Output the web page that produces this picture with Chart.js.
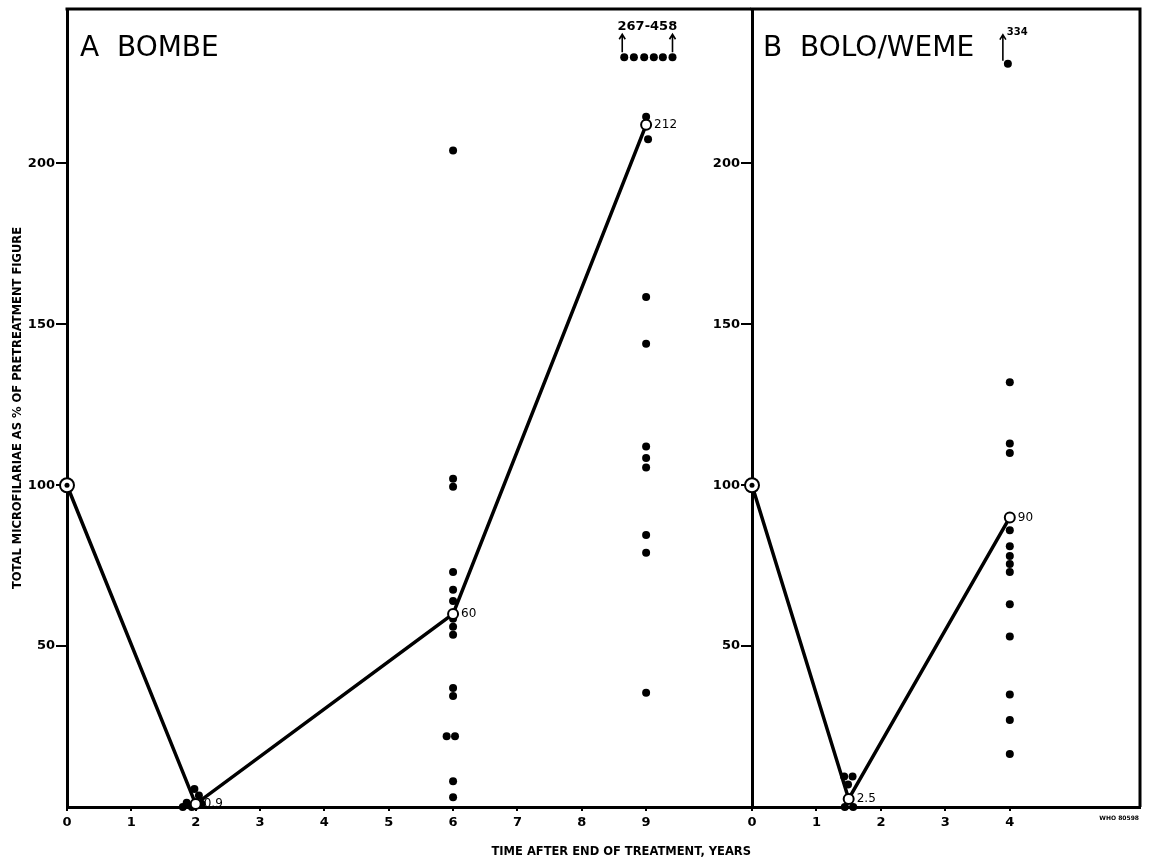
<!DOCTYPE html>
<html>
<head>
<meta charset="utf-8">
<script src="https://cdn.jsdelivr.net/npm/chart.js@4.4.0/dist/chart.umd.min.js"></script>
<style>
  html, body { margin: 0; padding: 0; background: #fff; }
  #wrap { position: relative; width: 1149px; height: 860px; }
  #chartA { position: absolute; left: 0; top: 0; }
  #chartB { position: absolute; left: 700px; top: 0; }
</style>
</head>
<body>
<div id="wrap">
  <canvas id="chartA" width="760" height="860"></canvas>
  <canvas id="chartB" width="449" height="860"></canvas>
</div>
<script>
// panel A - Bombe
var yearsMeanA = [0, 2, 6, 9];
var valuesMeanA = [100, 0.9, 60, 212];
var labelsMeanA = ['', '0.9', '60', '212'];

var yearsDotsA = [1.80, 1.86, 1.94, 1.98, 2.05, 2.09,
    6, 6, 6, 6, 6, 6, 6, 6, 6, 6, 6, 5.9, 6.03, 6, 6,
    9, 9.03, 9, 9, 9, 9, 9, 9, 9, 9];
var valuesDotsA = [0, 1.3, 0, 5.6, 3.6, 1.0,
    204, 102, 99.5, 73, 67.5, 64, 58.5, 56, 53.5, 37, 34.5, 22, 22, 8, 3,
    214.5, 207.5, 158.5, 144, 112, 108.5, 105.5, 84.5, 79, 35.5];

// off-scale values (267-458) drawn in a row at the top
var yearsOffA = [8.66, 8.81, 8.97, 9.12, 9.26, 9.41];
var plotOffA = 233;
var rangeOffA = '267-458';

// panel B - Bolo/Weme
var yearsMeanB = [0, 1.5, 4];
var valuesMeanB = [100, 2.5, 90];
var labelsMeanB = ['', '2.5', '90'];

var yearsDotsB = [1.43, 1.56, 1.49, 1.44, 1.57,
    4, 4, 4, 4, 4, 4, 4, 4, 4, 4, 4, 4, 4];
var valuesDotsB = [9.5, 9.5, 7, 0, 0,
    132, 113, 110, 86, 81, 78, 75.5, 73, 63, 53, 35, 27, 16.5];

var yearsOffB = [3.97];
var plotOffB = 231;
var rangeOffB = '334';

// axes
var xTicksA = [0, 1, 2, 3, 4, 5, 6, 7, 8, 9];
var xTicksB = [0, 1, 2, 3, 4];
var yTicks = [50, 100, 150, 200];
var yMax = 248;
var xMaxA = 10.63;
var xMaxB = 6.02;

var FONT = '"DejaVu Sans", sans-serif';

function pts(xs, ys) {
    return xs.map(function (x, i) { return { x: x, y: Array.isArray(ys) ? ys[i] : ys }; });
}

// frame (top + right), panel title, value labels, off-scale arrows
var notes = {
    id: 'notes',
    afterDatasetsDraw(chart, args, o) {
        var ctx = chart.ctx, a = chart.chartArea;
        ctx.save();
        ctx.strokeStyle = '#000';
        ctx.fillStyle = '#000';
        ctx.lineWidth = 3;
        ctx.beginPath();
        ctx.moveTo(a.left - 1.5, a.top);
        ctx.lineTo(a.right, a.top);
        if (o.rightEdge) ctx.lineTo(a.right, a.bottom);
        ctx.stroke();

        ctx.font = '28px ' + FONT;
        ctx.textBaseline = 'alphabetic';
        ctx.textAlign = 'left';
        ctx.fillText(o.title, a.left + o.titleDx, a.top + 47);

        // mean labels
        var mean = chart.getDatasetMeta(1);
        ctx.font = '12px ' + FONT;
        ctx.textBaseline = 'middle';
        o.meanLabels.forEach(function (txt, i) {
            if (!txt) return;
            var p = mean.data[i];
            ctx.fillText(txt, p.x + 8, p.y);
        });

        // arrows over the off-scale dots
        var off = chart.getDatasetMeta(3).data;
        var arrowXs = o.both ? [off[0].x - 2, off[off.length - 1].x] : [off[0].x - 5];
        var y0 = off[0].y - (o.both ? 5 : 3);
        var y1 = off[0].y - (o.both ? 23 : 29);
        ctx.lineWidth = 1.6;
        arrowXs.forEach(function (x) {
            ctx.beginPath();
            ctx.moveTo(x, y0);
            ctx.lineTo(x, y1);
            ctx.moveTo(x - 3, y1 + 5);
            ctx.lineTo(x, y1);
            ctx.lineTo(x + 3, y1 + 5);
            ctx.stroke();
        });
        if (o.both) {
            ctx.font = 'bold 13px ' + FONT;
            ctx.textAlign = 'center';
            ctx.fillText(o.offLabel, (arrowXs[0] + arrowXs[1]) / 2, y1 - 8);
        } else {
            ctx.font = 'bold 10px ' + FONT;
            ctx.textAlign = 'left';
            ctx.fillText(o.offLabel, arrowXs[0] + 4, y1 - 2);
            ctx.font = 'bold 6px ' + FONT;
            ctx.textAlign = 'right';
            ctx.fillText('WHO 80598', a.right - 1, a.bottom + 11);
        }
        ctx.restore();
    }
};

function makeChart(id, d) {
    return new Chart(document.getElementById(id), {
        type: 'scatter',
        data: {
            datasets: [{
                // centre dot of the 100% starting point
                data: pts([d.mean[0][0]], [d.mean[1][0]]),
                pointRadius: 2.5, pointBackgroundColor: '#000', pointBorderWidth: 0, clip: false
            }, {
                data: pts(d.mean[0], d.mean[1]),
                showLine: true, borderColor: '#000', borderWidth: 3.5, tension: 0,
                pointRadius: d.mean[0].map(function (v, i) { return i === 0 ? 7 : 5; }),
                pointBackgroundColor: '#fff', pointBorderColor: '#000', pointBorderWidth: 2, clip: false
            }, {
                data: pts(d.dots[0], d.dots[1]),
                pointRadius: 4, pointBackgroundColor: '#000', pointBorderWidth: 0, clip: false
            }, {
                data: pts(d.off, d.offY),
                pointRadius: 4, pointBackgroundColor: '#000', pointBorderWidth: 0, clip: false
            }]
        },
        options: {
            responsive: false,
            animation: false,
            layout: { padding: { left: 0, top: 7, right: d.padRight, bottom: 0 } },
            plugins: {
                legend: { display: false },
                tooltip: { enabled: false },
                notes: d.notes
            },
            scales: {
                x: {
                    type: 'linear', min: 0, max: d.xMax,
                    afterBuildTicks: function (s) { s.ticks = d.xTicks.map(function (v) { return { value: v }; }); },
                    afterFit: function (s) { s.height = 53; },
                    border: { display: true, color: '#000', width: 3 },
                    grid: { drawOnChartArea: false, drawTicks: true, tickLength: 4, color: '#000', lineWidth: 2 },
                    ticks: { color: '#000', padding: 4, maxRotation: 0, font: { family: FONT, size: 13, weight: 'bold' } },
                    title: d.xTitle ? {
                        display: true, text: d.xTitle, align: 'end', color: '#000',
                        padding: { top: 0, bottom: 1 }, font: { family: FONT, size: 11.5, weight: 'bold' }
                    } : { display: false }
                },
                y: {
                    type: 'linear', min: 0, max: yMax,
                    afterBuildTicks: function (s) { s.ticks = yTicks.map(function (v) { return { value: v }; }); },
                    afterFit: function (s) { s.width = d.yWidth; },
                    border: { display: true, color: '#000', width: 3 },
                    grid: { drawOnChartArea: false, drawTicks: true, tickLength: 11, color: '#000', lineWidth: 2 },
                    ticks: { color: '#000', padding: 1, font: { family: FONT, size: 13, weight: 'bold' } },
                    title: d.yTitle ? {
                        display: true, text: d.yTitle, color: '#000',
                        padding: { top: 11, bottom: 0 }, font: { family: FONT, size: 11.5, weight: 'bold' }
                    } : { display: false }
                }
            }
        },
        plugins: [notes]
    });
}

makeChart('chartA', {
    mean: [yearsMeanA, valuesMeanA],
    dots: [yearsDotsA, valuesDotsA],
    off: yearsOffA, offY: plotOffA,
    xTicks: xTicksA, xMax: xMaxA,
    yWidth: 67, padRight: 8,
    xTitle: 'TIME AFTER END OF TREATMENT, YEARS',
    yTitle: 'TOTAL MICROFILARIAE AS % OF PRETREATMENT FIGURE',
    notes: { title: 'A  BOMBE', titleDx: 13, meanLabels: labelsMeanA, offLabel: rangeOffA, both: true, rightEdge: false }
});

makeChart('chartB', {
    mean: [yearsMeanB, valuesMeanB],
    dots: [yearsDotsB, valuesDotsB],
    off: yearsOffB, offY: plotOffB,
    xTicks: xTicksB, xMax: xMaxB,
    yWidth: 52, padRight: 9,
    notes: { title: 'B  BOLO/WEME', titleDx: 11, meanLabels: labelsMeanB, offLabel: rangeOffB, both: false, rightEdge: true }
});
</script>
</body>
</html>
